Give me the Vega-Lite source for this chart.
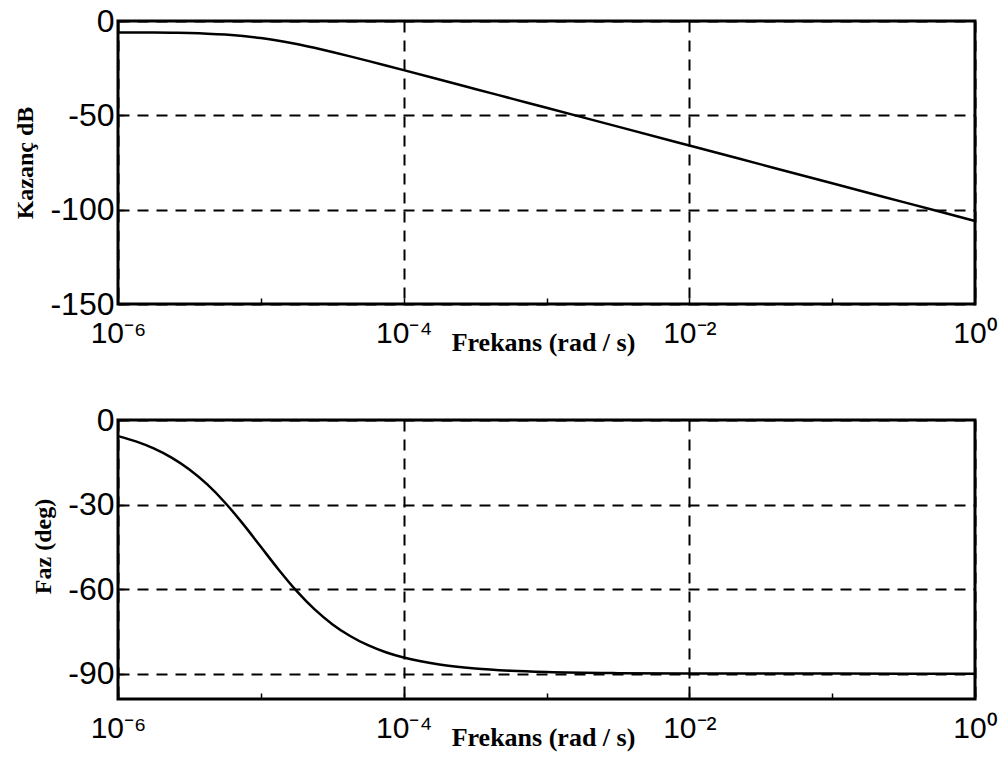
{
  "$schema": "https://vega.github.io/schema/vega-lite/v6.json",
  "background": "white",
  "padding": {"left": 12, "right": 0, "top": 3, "bottom": 5},
  "datasets": {
    "bode": [
      {"w": 1e-6, "mag": -6.04, "phase": -5.71},
      {"w": 1.334e-6, "mag": -6.08, "phase": -7.6},
      {"w": 1.778e-6, "mag": -6.14, "phase": -10.08},
      {"w": 2.371e-6, "mag": -6.24, "phase": -13.34},
      {"w": 3.162e-6, "mag": -6.41, "phase": -17.55},
      {"w": 4.217e-6, "mag": -6.71, "phase": -22.87},
      {"w": 5.623e-6, "mag": -7.19, "phase": -29.35},
      {"w": 7.499e-6, "mag": -7.94, "phase": -36.87},
      {"w": 1e-5, "mag": -9.01, "phase": -45},
      {"w": 1.334e-5, "mag": -10.44, "phase": -53.13},
      {"w": 1.778e-5, "mag": -12.19, "phase": -60.65},
      {"w": 2.371e-5, "mag": -14.21, "phase": -67.13},
      {"w": 3.162e-5, "mag": -16.41, "phase": -72.45},
      {"w": 4.217e-5, "mag": -18.74, "phase": -76.66},
      {"w": 5.623e-5, "mag": -21.14, "phase": -79.92},
      {"w": 7.499e-5, "mag": -23.58, "phase": -82.41},
      {"w": 1e-4, "mag": -26.04, "phase": -84.29},
      {"w": 1.778e-4, "mag": -31.01, "phase": -86.78},
      {"w": 3.162e-4, "mag": -36.0, "phase": -88.19},
      {"w": 5.623e-4, "mag": -41.0, "phase": -88.98},
      {"w": 1e-3, "mag": -46.0, "phase": -89.43},
      {"w": 3.162e-3, "mag": -56.0, "phase": -89.82},
      {"w": 1e-2, "mag": -66.0, "phase": -89.94},
      {"w": 3.162e-2, "mag": -76.0, "phase": -89.98},
      {"w": 0.1, "mag": -86.0, "phase": -89.99},
      {"w": 0.3162, "mag": -96.0, "phase": -90.0},
      {"w": 1, "mag": -106.0, "phase": -90.0}
    ]
  },
  "config": {
    "view": {"stroke": "black", "strokeWidth": 3},
    "axis": {
      "domain": false,
      "labelFont": "Liberation Sans",
      "labelFontSize": 30,
      "labelColor": "black",
      "titleFont": "Liberation Serif",
      "titleFontWeight": "bold",
      "titleFontSize": 24,
      "titleColor": "black",
      "gridColor": "black",
      "gridWidth": 2,
      "gridDash": [11, 8],
      "tickColor": "black",
      "tickWidth": 1.5
    }
  },
  "vconcat": [
    {
      "width": 857,
      "height": 283,
      "data": {"name": "bode"},
      "mark": {"type": "line", "color": "black", "strokeWidth": 2.5, "interpolate": "monotone"},
      "encoding": {
        "x": {
          "field": "w", "type": "quantitative",
          "scale": {"type": "log", "domain": [1e-6, 1], "nice": false},
          "axis": {
            "values": [1e-6, 1e-5, 1e-4, 1e-3, 1e-2, 1e-1, 1],
            "labelExpr": "['10⁻⁶','','10⁻⁴','','10⁻²','','10⁰'][round(log(datum.value)/LN10)+6]",
            "labelFlush": false,
            "labelPadding": 20,
            "tickSize": -6,
            "gridOpacity": {"condition": {"test": "round(log(datum.value)/LN10) % 2 == 0", "value": 1}, "value": 0},
            "title": "Frekans (rad / s)",
            "titleFontSize": 26,
            "titleX": 425,
            "titleY": 46,
            "titleAlign": "center",
            "titleBaseline": "alphabetic"
          }
        },
        "y": {
          "field": "mag", "type": "quantitative",
          "scale": {"domain": [-150, 0], "nice": false},
          "axis": {
            "values": [-150, -100, -50, 0],
            "labelExpr": "'' + datum.value",
            "labelFontSize": 32,
            "labelPadding": 10,
            "tickSize": -6,
            "title": "Kazanç dB",
            "titlePadding": 12
          }
        }
      }
    },
    {
      "width": 857,
      "height": 279,
      "data": {"name": "bode"},
      "mark": {"type": "line", "color": "black", "strokeWidth": 2.5, "interpolate": "monotone"},
      "encoding": {
        "x": {
          "field": "w", "type": "quantitative",
          "scale": {"type": "log", "domain": [1e-6, 1], "nice": false},
          "axis": {
            "values": [1e-6, 1e-5, 1e-4, 1e-3, 1e-2, 1e-1, 1],
            "labelExpr": "['10⁻⁶','','10⁻⁴','','10⁻²','','10⁰'][round(log(datum.value)/LN10)+6]",
            "labelFlush": false,
            "labelPadding": 20,
            "tickSize": -6,
            "gridOpacity": {"condition": {"test": "round(log(datum.value)/LN10) % 2 == 0", "value": 1}, "value": 0},
            "title": "Frekans (rad / s)",
            "titleFontSize": 26,
            "titleX": 425,
            "titleY": 46,
            "titleAlign": "center",
            "titleBaseline": "alphabetic"
          }
        },
        "y": {
          "field": "phase", "type": "quantitative",
          "scale": {"domain": [-99, 0], "nice": false},
          "axis": {
            "values": [-90, -60, -30, 0],
            "labelExpr": "'' + datum.value",
            "labelFontSize": 32,
            "labelPadding": 10,
            "tickSize": -6,
            "title": "Faz (deg)",
            "titlePadding": 12,
            "titleY": 126
          }
        }
      }
    }
  ],
  "spacing": 116,
  "bounds": "flush"
}
